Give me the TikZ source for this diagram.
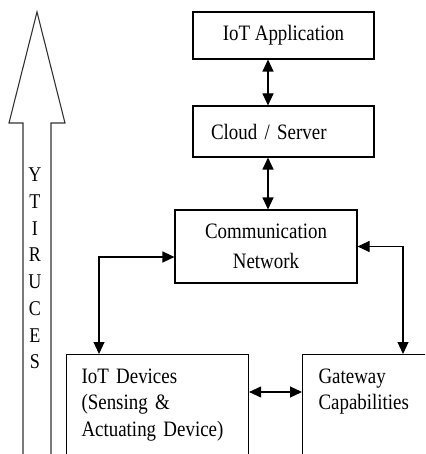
\documentclass[tikz,border=0pt]{standalone}
\usepackage{fontspec}
\setmainfont[FakeStretch=0.86]{Liberation Serif}
\usetikzlibrary{arrows.meta,positioning}

\begin{document}
\begin{tikzpicture}[x=1pt,y=-1pt,
  box/.style={draw,line width=1.1pt,inner sep=0pt,font=\fontsize{22}{26.5}\selectfont},
  link/.style={{Triangle[length=12pt,width=11pt]}-{Triangle[length=12pt,width=11pt]},line width=1.1pt}]
  \clip (0,0) rectangle (425,454);
  % security arrow, open at the bottom
  \draw[line width=1.1pt,draw=black!80] (23,470) -- (23,123) -- (9,123) -- (37,12) -- (65,123) -- (51,123) -- (51,470);
  \node[font=\fontsize{21}{26.7}\selectfont,align=center,inner sep=0pt] (sec) at (35,268.5) {Y\\T\\I\\R\\U\\C\\E\\S};
  % boxes
  \node[box,minimum width=181pt,minimum height=47pt] (app) at (283.5,35.5) {IoT Application};
  \node[box,minimum width=181pt,minimum height=51pt,inner xsep=18pt,text width=145pt,align=left] (cloud) at (283.5,131.5) {Cloud / Server};
  \node[box,minimum width=182pt,minimum height=73pt,align=center] (comm) at (266,246.5) {Communication\\[3pt]Network};
  \node[box,anchor=north west,inner xsep=15pt,inner ysep=14pt,text width=152pt,align=left,text depth=75pt] (devices) at (66,354) {IoT Devices\\(Sensing \&\\Actuating Device)};
  \node[box,anchor=north west,inner xsep=16pt,inner ysep=14pt,text width=110pt,align=left,text depth=100pt] (gateway) at (302,354) {Gateway\\Capabilities};
  % links
  \draw[link] ([xshift=-15.5pt]app.south) -- ([xshift=-15.5pt]cloud.north);
  \draw[link] ([xshift=-15.5pt]cloud.south) -- ([xshift=-15.5pt]cloud.south |- comm.north);
  \draw[link] ([yshift=-10.5pt]comm.west) -| ([xshift=33pt]devices.north west);
  \draw[link] (comm.east) -| ([xshift=101pt]gateway.north west);
  \draw[link] ([yshift=-38pt]devices.north east) -- ([yshift=-38pt]gateway.north west);
\end{tikzpicture}
\end{document}
